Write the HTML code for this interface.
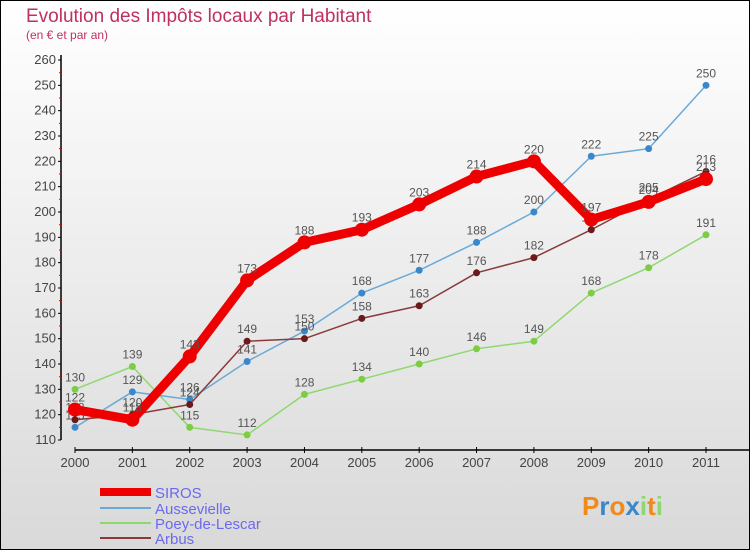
<!DOCTYPE html>
<html><head><meta charset="utf-8"><style>
body{margin:0}
#c{width:750px;height:550px;position:relative;overflow:hidden;box-sizing:border-box;border:1px solid #000;background:linear-gradient(#fff,#d9d9d9);font-family:"Liberation Sans",sans-serif}
</style></head><body>
<div id="c">
<svg id="s" width="750" height="550" style="position:absolute;left:-1px;top:-1px">
<text x="26" y="22" font-size="19" fill="#c0305f">Evolution des Impôts locaux par Habitant</text>
<text x="26" y="39" font-size="12" fill="#c0305f">(en € et par an)</text>
</svg>
</div>
<script>
const years=[2000,2001,2002,2003,2004,2005,2006,2007,2008,2009,2010,2011];
const yTicks=[110,120,130,140,150,160,170,180,190,200,210,220,230,240,250,260];
const siros=[122,118,143,173,188,193,203,214,220,197,204,213];
const aussevielle=[115,129,126,141,153,168,177,188,200,222,225,250];
const poey=[130,139,115,112,128,134,140,146,149,168,178,191];
const arbus=[118,120,124,149,150,158,163,176,182,193,205,216];
const NS="http://www.w3.org/2000/svg";
const svg=document.getElementById('s');
function X(i){return 75+i*(706-75)/11;}
function Y(v){return 440-(v-110)*(380/150);}
function el(t,a,p){const e=document.createElementNS(NS,t);for(const k in a)e.setAttribute(k,a[k]);(p||svg).appendChild(e);return e;}
let ax=el('line',{x1:61,y1:55,x2:61,y2:440,stroke:'#000','stroke-width':1.5});


let bx=el('line',{x1:75,y1:450,x2:750,y2:450,stroke:'#000','stroke-width':1.5});


yTicks.forEach((v,i)=>{
  el('line',{x1:58,y1:Y(v),x2:61,y2:Y(v),stroke:'#000'});
  if(i<yTicks.length-1){el('line',{x1:59,y1:Y(v+5),x2:61,y2:Y(v+5),stroke:'#e00'});}
  const t=el('text',{x:56,y:Y(v)+4,'font-size':13,'text-anchor':'end',fill:'#444'});
  t.textContent=v;
  
  
});
years.forEach((y,i)=>{
  el('line',{x1:X(i),y1:447,x2:X(i),y2:453,stroke:'#000'});
  const t=el('text',{x:X(i),y:467,'font-size':13,'text-anchor':'middle',fill:'#444'});
  t.textContent=y;
  
  
});
function series(d,color,w,r,name,dot){
  const g=el('g',{});
  
  
  el('polyline',{points:d.map((v,i)=>X(i)+','+Y(v)).join(' '),fill:'none',stroke:color,'stroke-width':w,'stroke-linejoin':'round'},g);
  d.forEach((v,i)=>{
    const c=el('circle',{cx:X(i),cy:Y(v),r:r,fill:dot||color},g);
    
    
    const t=el('text',{x:X(i),y:Y(v)-8,'font-size':12,'text-anchor':'middle',fill:'#555'},g);
    t.textContent=v;
  });
}
series(poey,'#8fd870',1.5,3.5,'poey','#7ccc44');
series(aussevielle,'#6aaad8',1.5,3.5,'aussevielle','#3a88cc');
series(arbus,'#8a3a3a',1.5,3.5,'arbus','#6a1a1a');
series(siros,'#ee0000',9,7,'siros');
const leg=[['SIROS','#ee0000',8],['Aussevielle','#6aaad8',2],['Poey-de-Lescar','#8fd870',2],['Arbus','#8a3a3a',2]];
const ly=[492,508,523,538];
leg.forEach((l,i)=>{
  const g=el('g',{});
  
  
  el('line',{x1:100,y1:ly[i],x2:151,y2:ly[i],stroke:l[1],'stroke-width':l[2]},g);
  const t=el('text',{x:155,y:ly[i]+6,'font-size':15,fill:'#6a6aee'},g);
  t.textContent=l[0];
});
const p=el('text',{x:582,y:515,'font-size':26,'font-weight':'bold',fill:'#f08a1a'});


[['P','#f08a1a'],['r','#3a88cc'],['o','#f08a1a'],['x','#3a88cc'],['i','#8fd870'],['t','#f08a1a'],['i','#8fd870']].forEach(s=>{
  const ts=el('tspan',{fill:s[1]},p);ts.textContent=s[0];
});
</script>
</body></html>
